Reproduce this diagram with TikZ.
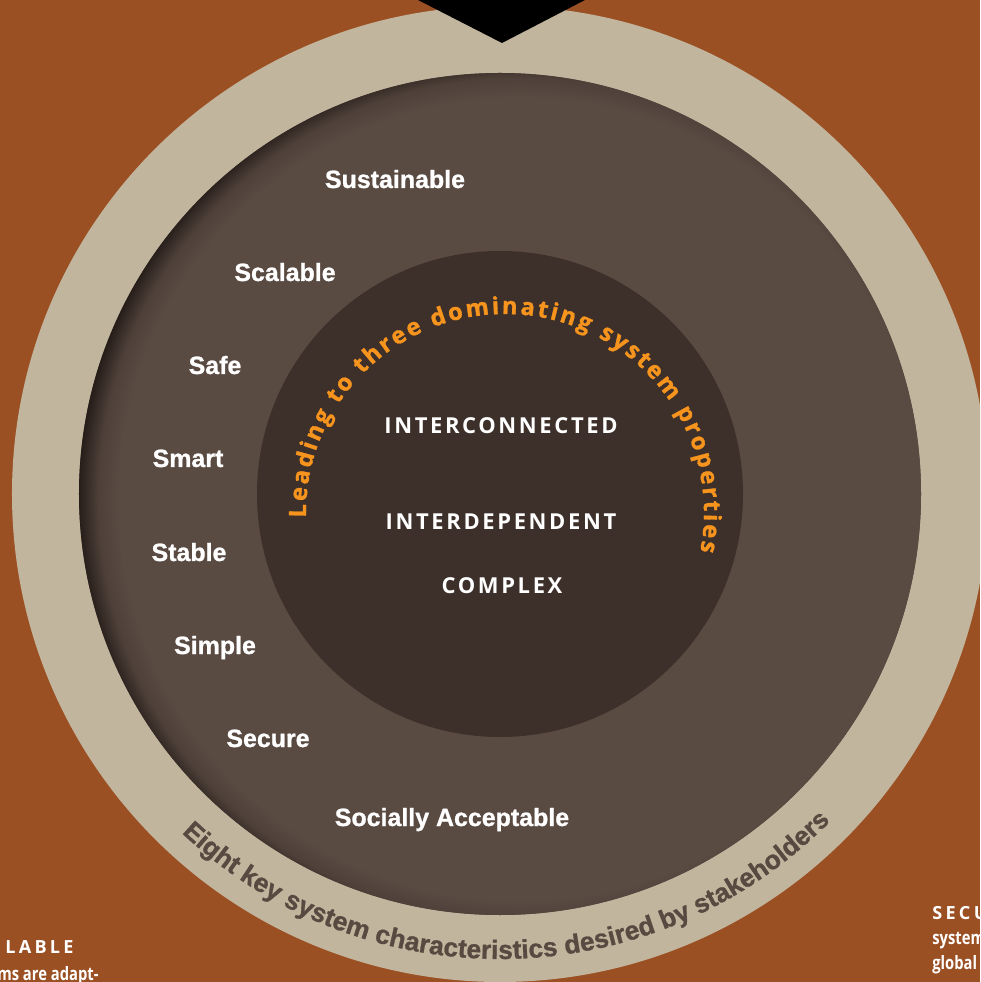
\documentclass[tikz,border=0pt]{standalone}
\usepackage{fontspec}
\usepackage{xcolor}
\usetikzlibrary{decorations.text}
\setmainfont{Liberation Sans}
\newfontfamily\propfont[LetterSpace=12]{Open Sans}
\newfontfamily\leadfont[FakeBold=1.2]{Open Sans Bold}
\newfontfamily\ringfont[FakeBold=1]{Liberation Sans Bold}
\newfontfamily\sidefont{Open Sans}
\newfontfamily\sidecaps[LetterSpace=18]{Open Sans}

\definecolor{bgbrown}{RGB}{155,80,36}
\definecolor{tanring}{RGB}{194,181,157}
\definecolor{ringbrown}{RGB}{89,74,66}
\definecolor{corebrown}{RGB}{61,48,42}
\definecolor{rimshadow}{RGB}{38,29,25}
\definecolor{arcorange}{RGB}{247,148,30}
\definecolor{arctext}{RGB}{88,73,65}
\colorlet{rimmid}{ringbrown!80!rimshadow}

% 25bp = radius of the shaded circle
\pgfdeclareradialshading{rimshade}{\pgfpoint{0bp}{0bp}}{%
  color(0bp)=(ringbrown); color(21.8bp)=(ringbrown);
  color(22.9bp)=(rimmid); color(24bp)=(rimshadow); color(50bp)=(rimshadow)}

\tikzset{
  trait/.style={text=white, inner sep=0pt, anchor=base,
    font=\ringfont\fontsize{14.2}{16}\selectfont},
  property/.style={text=white, inner sep=0pt, anchor=base,
    font=\propfont\bfseries\fontsize{12.5}{14}\selectfont},
  sidenote/.style={text=white, inner sep=0pt, anchor=base west,
    font=\sidefont\bfseries\fontsize{10.5}{12}\selectfont}
}

\begin{document}
\ringfont\fontsize{15}{17}\selectfont
\begin{tikzpicture}[x=0.02cm, y=0.02cm]
    \useasboundingbox (-500,-488) rectangle (480,494);
    \clip (-500,-488) rectangle (480,494);
    \fill[bgbrown] (-500,-488) rectangle (480,494);

    % Rings
    \fill[tanring] (0,0) circle (488);
    \fill[ringbrown] (0,0) circle (421);
    \begin{scope}
        \clip (0,0) circle (421);
        \shade[shading=rimshade] (20,-5) circle (460);
    \end{scope}
    \fill[corebrown] (0,0) circle (243);

    % Marker on top
    \fill[black] (-82,494) -- (85,494) -- (2,451) -- cycle;

    % Eight characteristics
    \node (sustainable) at (-105,306) [trait] {Sustainable};
    \node (scalable) at (-215,213) [trait] {Scalable};
    \node (safe) at (-285,120) [trait] {Safe};
    \node (smart) at (-312,27) [trait] {Smart};
    \node (stable) at (-311,-67) [trait] {Stable};
    \node (simple) at (-285,-160) [trait] {Simple};
    \node (secure) at (-232,-253) [trait] {Secure};
    \node (social) at (-48,-332) [trait] {Socially Acceptable};

    % Three system properties
    \node (interconnected) at (1,60) [property] {INTERCONNECTED};
    \node (interdependent) at (1,-36) [property] {INTERDEPENDENT};
    \node (complex) at (2,-100) [property] {COMPLEX};

    % Curved captions
    \path[decorate, decoration={text along path, text align=fit to path,
        text color=arcorange,
        text={|\leadfont\fontsize{13.5}{15}\selectfont|Leading to three dominating system properties}}]
        (5,-19) ++(181.3:199) arc[start angle=181.3, end angle=-11.2, radius=199];
    \path[decorate, decoration={text along path, text align=fit to path,
        text color=arctext,
        text={Eight key system characteristics desired by stakeholders}}]
        (0,0) ++(226.8:465) arc[start angle=226.8, end angle=315, radius=465];

    % Cut-off side notes
    \node (leftcap) at (-495,-459) [sidenote, font=\sidecaps\bfseries\fontsize{10.3}{12}\selectfont] {LABLE};
    \node (leftline) at (-503,-486) [sidenote] {\scalebox{0.8}[1]{ms are adapt-}};
    \node (rightcap) at (432,-425) [sidenote, font=\sidecaps\bfseries\fontsize{10.3}{12}\selectfont] {SECU};
    \node (rightline) at (432,-450) [sidenote] {\scalebox{0.8}[1]{system}};
    \node (rightline2) at (432,-475) [sidenote] {\scalebox{0.8}[1]{global}};
\end{tikzpicture}
\end{document}
